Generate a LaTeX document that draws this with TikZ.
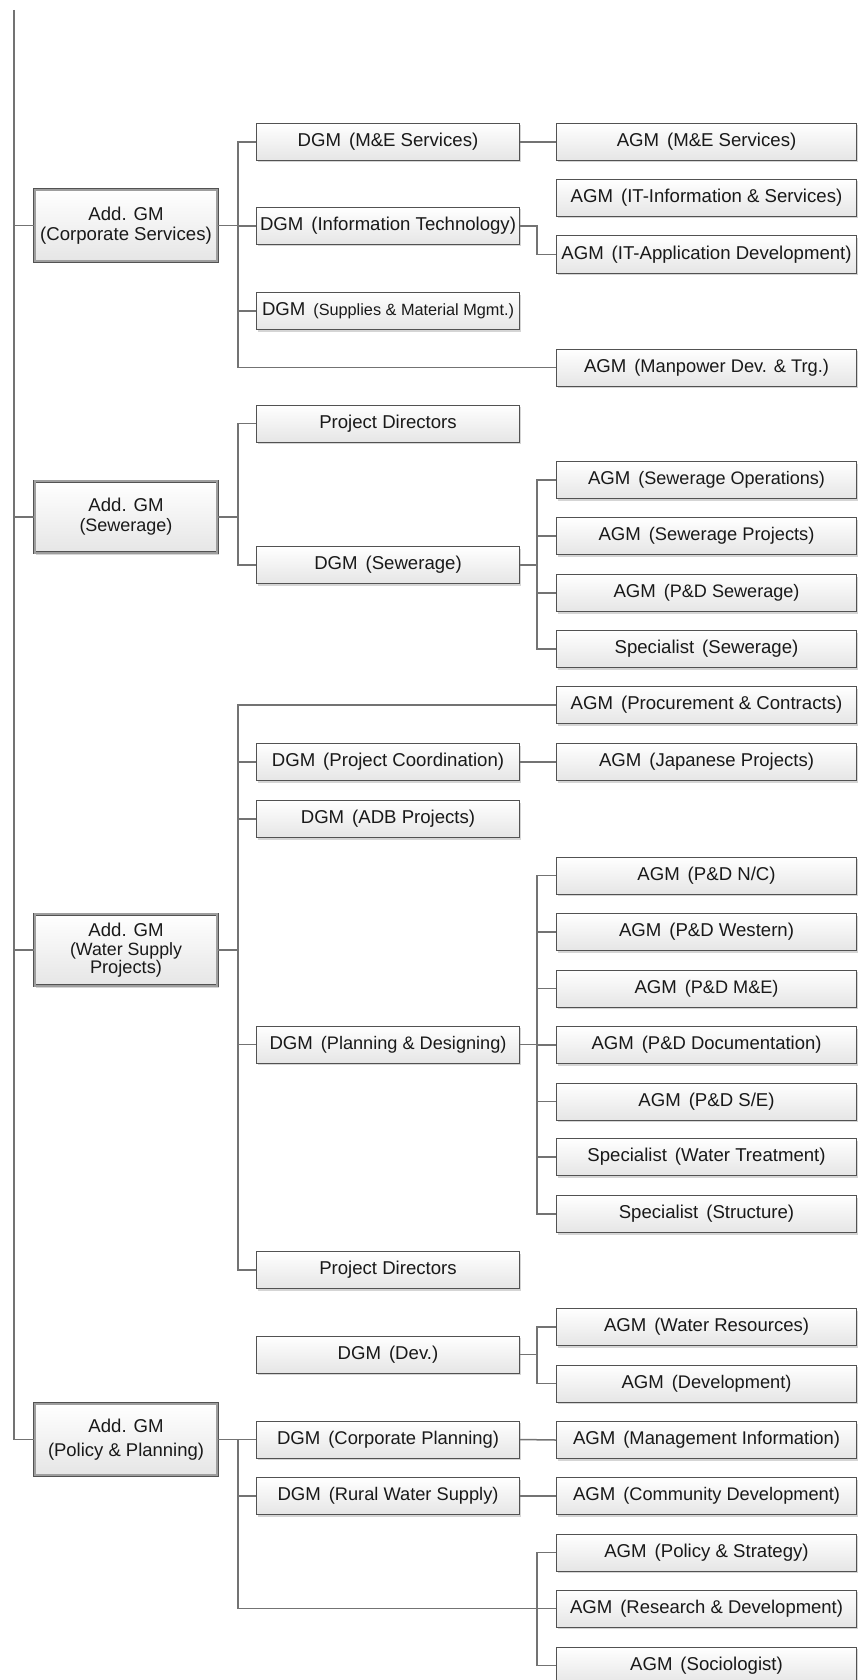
\documentclass[tikz,border=0pt]{standalone}
\usepackage{fontspec}
\setmainfont{Liberation Sans}
\usetikzlibrary{shadows}

\newlength\prefw
\newlength\restw
% set #2 at the size that makes it #1pt wide (never above 18.6pt)
\newcommand\fitw[2]{%
  \settowidth\restw{\fontsize{10}{12}\selectfont #2}%
  \pgfmathsetmacro\fitsz{min(18.6,10*(#1)/\restw)}%
  {\fontsize{\fitsz}{\fitsz}\selectfont #2}}
% title #1 at full size, then the bracketed part #2 scaled so the label is #3pt wide
\newcommand\lbl[3]{%
  \settowidth\prefw{\fontsize{18.6}{22}\selectfont #1\ \hspace{0.15em}}%
  \pgfmathsetmacro\remw{#3-\prefw}%
  {\fontsize{18.6}{22}\selectfont #1\ \hspace{0.15em}}\fitw{\remw}{#2}}

\tikzset{
  conn/.style={draw=black!55, line width=1.5pt},
  box/.style={draw=black!68, line width=1pt, top color=white, middle color=black!2,
    bottom color=black!10, inner sep=0pt, text=black!90, font=\fontsize{18.6}{22}\selectfont,
    drop shadow={shadow xshift=1.5pt, shadow yshift=-2pt, opacity=0.3, fill=black!55}},
  dgm/.style={box, minimum width=263, minimum height=37},
  agm/.style={box, minimum width=300, minimum height=37},
  addgm/.style={box, minimum width=182.5, minimum height=71.5, line width=0.9pt,
    double=black!38, double distance=1.6pt, align=center,
    font=\fontsize{18.6}{20}\selectfont},
}

\begin{document}
\begin{tikzpicture}[x=1pt, y=-1pt]
\useasboundingbox (0,0) rectangle (859,1680);

% bus lines
\coordinate (top) at (14,10);
\coordinate (b1) at (238,0);
\coordinate (b2) at (537,0);

% ---------- Corporate Services ----------
\node[addgm] (acs) at (126,225.5) {Add. GM\\\fitw{174}{(Corporate Services)}};
\node[dgm] (dms) at (388,142) {\lbl{DGM}{(M\&E Services)}{193}};
\node[dgm] (dit) at (388,226) {\lbl{DGM}{(Information Technology)}{256}};
\node[dgm] (dsm) at (388,311) {\lbl{DGM}{(Supplies \& Material Mgmt.)}{252}};
\node[agm] (ams) at (706.5,142) {\lbl{AGM}{(M\&E Services)}{191}};
\node[agm] (aii) at (706.5,198) {\lbl{AGM}{(IT-Information \& Services)}{278}};
\node[agm] (aap) at (706.5,254.5) {\lbl{AGM}{(IT-Application Development)}{291}};
\node[agm] (amp) at (706.5,367.5) {\lbl{AGM}{(Manpower Dev. \& Trg.)}{245}};

% ---------- Sewerage ----------
\node[addgm] (asw) at (126,517) {Add. GM\\\fitw{93}{(Sewerage)}};
\node[dgm] (pd1) at (388,423.5) {Project Directors};
\node[dgm] (dsw) at (388,565) {\lbl{DGM}{(Sewerage)}{153}};
\node[agm] (aso) at (706.5,480) {\lbl{AGM}{(Sewerage Operations)}{237}};
\node[agm] (asp) at (706.5,536) {\lbl{AGM}{(Sewerage Projects)}{216}};
\node[agm] (apds) at (706.5,593) {\lbl{AGM}{(P\&D Sewerage)}{186}};
\node[agm] (ssw) at (706.5,649) {\lbl{Specialist}{(Sewerage)}{185}};

% ---------- Water Supply Projects ----------
\node[addgm] (awp) at (126,950) {Add. GM\\[-1pt]\fitw{112}{(Water Supply}\\[-2pt]\fitw{72}{Projects)}};
\node[agm] (apc) at (706.5,705) {\lbl{AGM}{(Procurement \& Contracts)}{276}};
\node[dgm] (dpc) at (388,762) {\lbl{DGM}{(Project Coordination)}{234}};
\node[agm] (ajp) at (706.5,762) {\lbl{AGM}{(Japanese Projects)}{215}};
\node[dgm] (dadb) at (388,819) {\lbl{DGM}{(ADB Projects)}{178}};
\node[agm] (anc) at (706.5,875.5) {\lbl{AGM}{(P\&D N/C)}{143}};
\node[agm] (awe) at (706.5,932) {\lbl{AGM}{(P\&D Western)}{175}};
\node[agm] (ame) at (706.5,988.5) {\lbl{AGM}{(P\&D M\&E)}{144}};
\node[agm] (adoc) at (706.5,1045) {\lbl{AGM}{(P\&D Documentation)}{230}};
\node[agm] (ase) at (706.5,1101.5) {\lbl{AGM}{(P\&D S/E)}{139}};
\node[agm] (swt) at (706.5,1157) {\lbl{Specialist}{(Water Treatment)}{245}};
\node[agm] (sst) at (706.5,1214) {\lbl{Specialist}{(Structure)}{185}};
\node[dgm] (dpd) at (388,1044.5) {\lbl{DGM}{(Planning \& Designing)}{237}};
\node[dgm] (pd2) at (388,1270) {Project Directors};
\node[dgm] (ddev) at (388,1354.5) {\lbl{DGM}{(Dev.)}{101}};
\node[agm] (awr) at (706.5,1327) {\lbl{AGM}{(Water Resources)}{205}};
\node[agm] (adv) at (706.5,1383.5) {\lbl{AGM}{(Development)}{170}};

% ---------- Policy & Planning ----------
\node[addgm] (app) at (126,1439.5) {Add. GM\\[4pt]\fitw{156}{(Policy \& Planning)}};
\node[dgm] (dcp) at (388,1439.5) {\lbl{DGM}{(Corporate Planning)}{222}};
\node[dgm] (drw) at (388,1496) {\lbl{DGM}{(Rural Water Supply)}{221}};
\node[agm] (ami) at (706.5,1440) {\lbl{AGM}{(Management Information)}{267}};
\node[agm] (acd) at (706.5,1496) {\lbl{AGM}{(Community Development)}{267}};
\node[agm] (aps) at (706.5,1552.5) {\lbl{AGM}{(Policy \& Strategy)}{207}};
\node[agm] (ard) at (706.5,1608.5) {\lbl{AGM}{(Research \& Development)}{273}};
\node[agm] (asoc) at (706.5,1665.5) {\lbl{AGM}{(Sociologist)}{153}};

% ---------- connectors ----------
% main trunk
\draw[conn] (top) |- (app.west);
\foreach \g in {acs,asw,awp}
  \draw[conn] (\g.west -| top) -- (\g.west);

% Corporate Services
\foreach \c in {dms,dit,dsm,amp}
  \draw[conn] (acs.east) -- (acs.east -| b1) |- (\c.west);
\draw[conn] (dms.east) -- (ams.west);
\draw[conn] (dit.east) -- (dit.east -| b2) |- (aap.west);

% Sewerage
\foreach \c in {pd1,dsw}
  \draw[conn] (asw.east) -- (asw.east -| b1) |- (\c.west);
\foreach \c in {aso,asp,apds,ssw}
  \draw[conn] (dsw.east) -- (dsw.east -| b2) |- (\c.west);

% Water Supply Projects
\foreach \c in {apc,dpc,dadb,dpd,pd2}
  \draw[conn] (awp.east) -- (awp.east -| b1) |- (\c.west);
\draw[conn] (dpc.east) -- (ajp.west);
\foreach \c in {anc,awe,ame,adoc,ase,swt,sst}
  \draw[conn] (dpd.east) -- (dpd.east -| b2) |- (\c.west);
\foreach \c in {awr,adv}
  \draw[conn] (ddev.east) -- (ddev.east -| b2) |- (\c.west);

% Policy & Planning
\foreach \c in {dcp,drw,ard}
  \draw[conn] (app.east) -- (app.east -| b1) |- (\c.west);
\draw[conn] (dcp.east) -- (ami.west);
\draw[conn] (drw.east) -- (acd.west);
\draw[conn] (aps.west) -- (aps.west -| b2) -- (asoc.west -| b2) -- (asoc.west);
\end{tikzpicture}
\end{document}
